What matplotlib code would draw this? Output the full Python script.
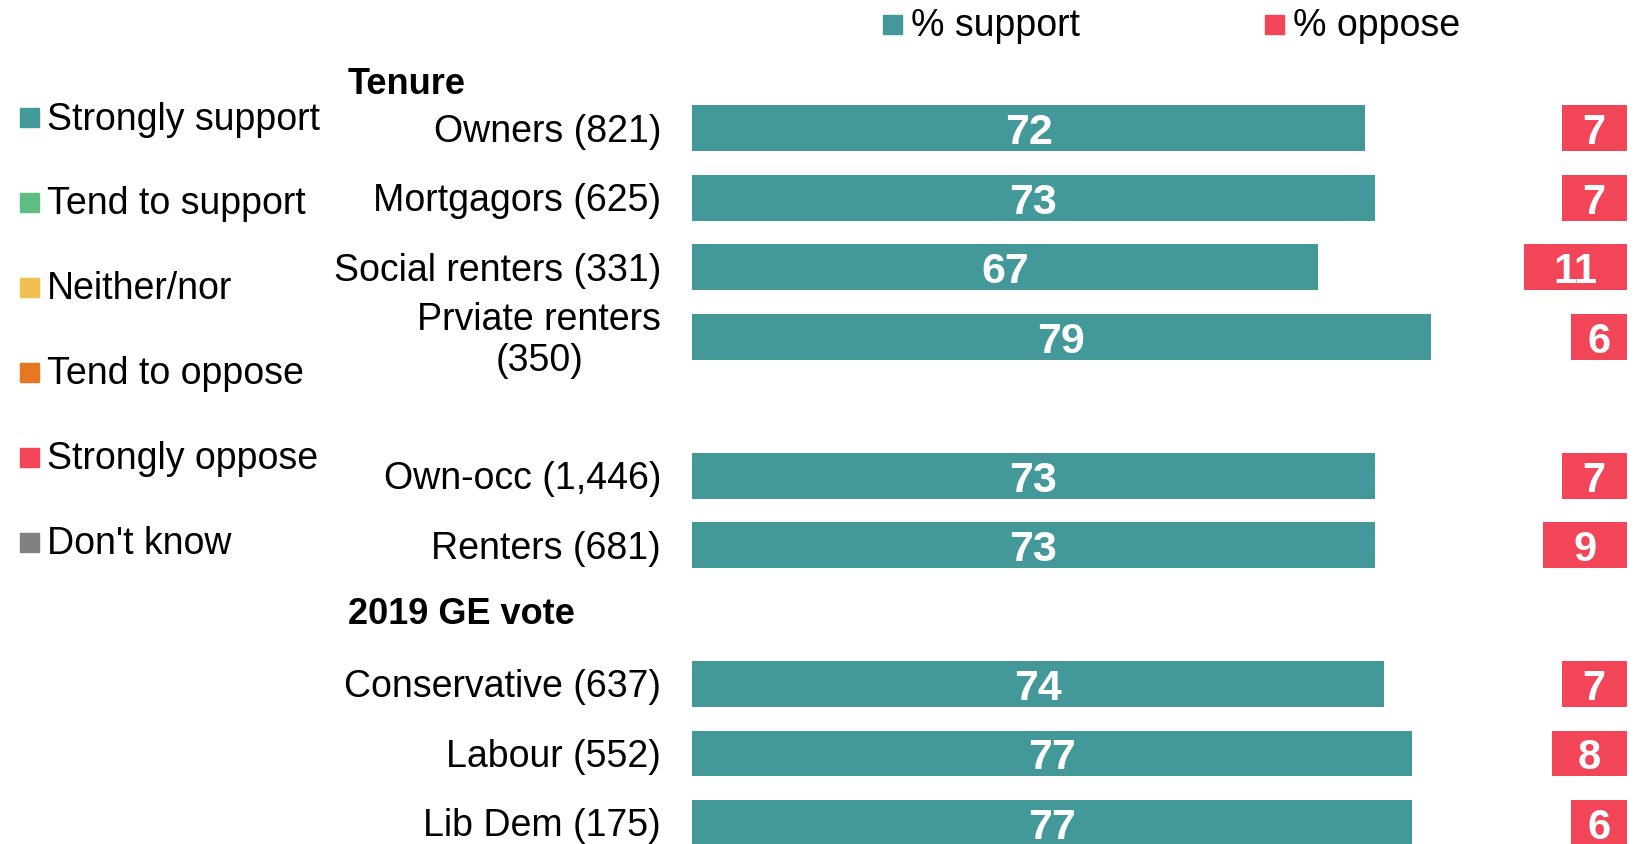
import matplotlib
matplotlib.use("Agg")
import matplotlib.pyplot as plt
from matplotlib.patches import Rectangle
from matplotlib.transforms import blended_transform_factory

plt.rcParams['font.family'] = ['Liberation Sans', 'DejaVu Sans']

# data
categories = ["Owners (821)", "Mortgagors (625)", "Social renters (331)",
              "Prviate renters\n(350)", "Own-occ (1,446)", "Renters (681)",
              "Conservative (637)", "Labour (552)", "Lib Dem (175)"]
support = [72, 73, 67, 79, 73, 73, 74, 77, 77]
oppose = [7, 7, 11, 6, 7, 9, 7, 8, 6]
legend_labels = ["Strongly support", "Tend to support", "Neither/nor",
                 "Tend to oppose", "Strongly oppose", "Don't know"]

# layout
rows = [0, 1, 2, 3, 5, 6, 8, 9, 10]
W, H = 1650, 844
teal = "#43999A"
red = "#F24558"
legend_colors = [teal, "#5EBE82", "#F2C04E", "#E87722", red, "#808080"]

fig = plt.figure(figsize=(W / 100, H / 100), dpi=100)
ax = fig.add_axes([692 / W, 0, (1627 - 692) / W, 1])
ax.set_xlim(0, 100)
ax.set_ylim((H - 128.4) / 69.45, -128.4 / 69.45)
ax.axis("off")

ax.barh(rows, support, height=0.66, color=teal)
ax.barh(rows, oppose, left=[100 - o for o in oppose], height=0.66, color=red)

for y, s, o in zip(rows, support, oppose):
    ax.text(s / 2, y + 0.07, str(s), ha="center", va="center", color="white",
            fontsize=31, fontweight="bold")
    ax.text(100 - o / 2, y + 0.07, str(o), ha="center", va="center", color="white",
            fontsize=30, fontweight="bold")

trans = blended_transform_factory(fig.transFigure, ax.transData)
for y, lab in zip(rows, categories):
    ax.text(661 / W, y + 0.05, lab, transform=trans, ha="right", va="center",
            multialignment="center", fontsize=27, linespacing=1.18)

# group headers
fig.text(348 / W, 1 - 84 / H, "Tenure", fontsize=26, fontweight="bold", va="center")
fig.text(348 / W, 1 - 614 / H, "2019 GE vote", fontsize=26, fontweight="bold", va="center")

# left legend
for i, (lab, c) in enumerate(zip(legend_labels, legend_colors)):
    yc = 117.5 + i * 84.9
    fig.add_artist(Rectangle((20 / W, 1 - (yc + 9.5) / H), 19 / W, 19 / H,
                             transform=fig.transFigure, color=c))
    fig.text(47 / W, 1 - (yc + 2) / H, lab, fontsize=27, va="center")

# top legend
for x0, lab, c in [(883, "% support", teal), (1265, "% oppose", red)]:
    fig.add_artist(Rectangle((x0 / W, 1 - 33.5 / H), 19 / W, 19 / H,
                             transform=fig.transFigure, color=c))
    fig.text((x0 + 28) / W, 1 - 26.5 / H, lab, fontsize=27, va="center")

fig.savefig("out.png", dpi=100)
